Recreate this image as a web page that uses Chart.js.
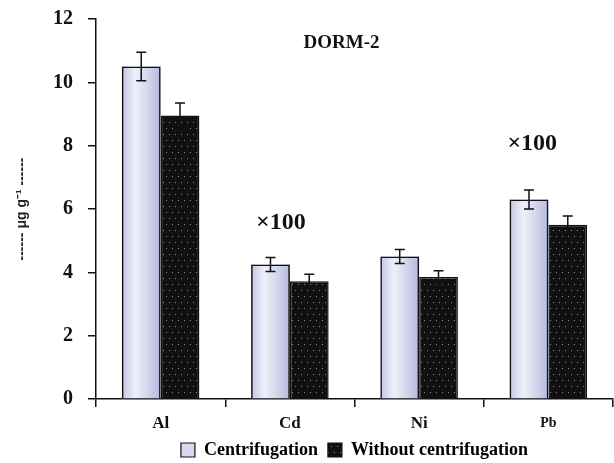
<!DOCTYPE html>
<html lang="en">
<head>
<meta charset="UTF-8">
<title>DORM-2</title>
<script src="https://cdn.jsdelivr.net/npm/chart.js"></script>
<style>
  html, body { margin: 0; padding: 0; background: #fff; }
  #wrap { width: 614px; height: 463px; }
</style>
</head>
<body>
<div id="wrap"><canvas id="chart" width="614" height="463"></canvas></div>
<script>
// data
const elements = ['Al', 'Cd', 'Ni', 'Pb'];
const centrifugation = [10.5, 4.25, 4.5, 6.3];
const centrifugationErr = [0.45, 0.22, 0.22, 0.3];
const withoutCentrifugation = [8.95, 3.72, 3.85, 5.5];
const withoutCentrifugationErr = [0.4, 0.22, 0.2, 0.28];
const seriesNames = ['Centrifugation', 'Without centrifugation'];
// text notes placed on the plot: [text, category position, value, font size]
const notes = [
    ['DORM-2', 1.4, 11.24, 19],
    ['\u00d7100', 0.93, 5.57, 24],
    ['\u00d7100', 2.875, 8.06, 24]
];

const serif = "'Liberation Serif', 'DejaVu Serif', serif";

// black fill with small staggered grey dots
const tile = document.createElement('canvas');
tile.width = 6; tile.height = 12;
const tctx = tile.getContext('2d');
tctx.fillStyle = '#111';
tctx.fillRect(0, 0, 6, 12);
tctx.fillStyle = '#8a8a8a';
tctx.fillRect(1, 2, 1, 1);
tctx.fillRect(4, 8, 1, 1);
const dots = tctx.createPattern(tile, 'repeat');

const decor = {
    id: 'decor',
    beforeDatasetDraw(chart, args) {
        if (args.index !== 0) return;
        const ctx = chart.ctx;
        ctx.save();
        args.meta.data.forEach(bar => {
            const left = bar.x - bar.width / 2;
            const g = ctx.createLinearGradient(left, 0, left + bar.width, 0);
            g.addColorStop(0, '#c2c5e5');
            g.addColorStop(0.35, '#eff0fa');
            g.addColorStop(1, '#b6badd');
            ctx.fillStyle = g;
            ctx.fillRect(left, bar.y, bar.width, bar.base - bar.y);
        });
        ctx.restore();
    },
    afterDatasetsDraw(chart) {
        const ctx = chart.ctx;
        const yScale = chart.scales.y, xScale = chart.scales.x;
        const errs = [centrifugationErr, withoutCentrifugationErr];
        ctx.save();
        ctx.strokeStyle = '#111';
        ctx.lineWidth = 1.5;
        chart.data.datasets.forEach((ds, i) => {
            chart.getDatasetMeta(i).data.forEach((bar, j) => {
                const hi = yScale.getPixelForValue(ds.data[j] + errs[i][j]);
                const lo = yScale.getPixelForValue(ds.data[j] - errs[i][j]);
                ctx.beginPath();
                ctx.moveTo(bar.x, hi); ctx.lineTo(bar.x, lo);
                ctx.moveTo(bar.x - 5, hi); ctx.lineTo(bar.x + 5, hi);
                ctx.moveTo(bar.x - 5, lo); ctx.lineTo(bar.x + 5, lo);
                ctx.stroke();
            });
        });
        ctx.fillStyle = '#111';
        ctx.textAlign = 'center';
        ctx.textBaseline = 'middle';
        notes.forEach(([text, pos, val, size]) => {
            ctx.font = 'bold ' + size + 'px ' + serif;
            ctx.fillText(text, xScale.getPixelForValue(pos), yScale.getPixelForValue(val));
        });
        ctx.restore();
    }
};

new Chart(document.getElementById('chart'), {
    type: 'bar',
    data: {
        labels: elements,
        datasets: [
            {
                label: seriesNames[0],
                data: centrifugation,
                backgroundColor: 'rgba(0,0,0,0)',
                borderColor: '#111',
                borderWidth: 1.5,
                categoryPercentage: 0.6,
                barPercentage: 1
            },
            {
                label: seriesNames[1],
                data: withoutCentrifugation,
                backgroundColor: dots,
                borderColor: '#111',
                borderWidth: 1.5,
                categoryPercentage: 0.6,
                barPercentage: 1
            }
        ]
    },
    options: {
        responsive: false,
        animation: false,
        layout: { padding: { top: 19, right: 1, bottom: -6, left: 0 } },
        plugins: {
            tooltip: { enabled: false },
            legend: {
                position: 'bottom',
                fullSize: false,
                labels: {
                    boxWidth: 14,
                    boxHeight: 14,
                    padding: 10,
                    color: '#111',
                    font: { family: serif, size: 18, weight: 'bold' },
                    generateLabels: () => [
                        { text: seriesNames[0], fillStyle: '#d5d8ef', strokeStyle: '#111', lineWidth: 1.2, datasetIndex: 0 },
                        { text: seriesNames[1], fillStyle: dots, strokeStyle: '#111', lineWidth: 1.2, datasetIndex: 1 }
                    ]
                }
            }
        },
        scales: {
            x: {
                grid: { drawOnChartArea: false, drawTicks: true, tickLength: 8, color: '#111', lineWidth: 1.5, offset: true },
                border: { display: true, color: '#111', width: 1.5 },
                ticks: {
                    color: '#111',
                    padding: 6,
                    font: c => c.index === 3
                        ? { family: serif, weight: 'bold', size: 14, lineHeight: 1.46 }
                        : { family: serif, weight: 'bold', size: 17 }
                },
                afterFit: s => { s.height = 32; }
            },
            y: {
                min: 0,
                max: 12,
                ticks: { stepSize: 2, color: '#111', padding: 15, font: { family: serif, size: 20, weight: 'bold' } },
                grid: { drawOnChartArea: false, tickLength: 8, color: '#111', lineWidth: 1.5 },
                border: { display: true, color: '#111', width: 1.5 },
                title: {
                    display: true,
                    text: '------ \u03bcg g\u207b\u00b9 ------',
                    color: '#222',
                    font: { family: "'Liberation Sans', Arial, sans-serif", size: 14, weight: 'bold' },
                    padding: { top: 14, bottom: 0 }
                },
                afterFit: s => {
                    s.width = 96;
                    s.paddingTop = 0;
                    s.paddingBottom = 0;
                }
            }
        }
    },
    plugins: [decor]
});
</script>
</body>
</html>
